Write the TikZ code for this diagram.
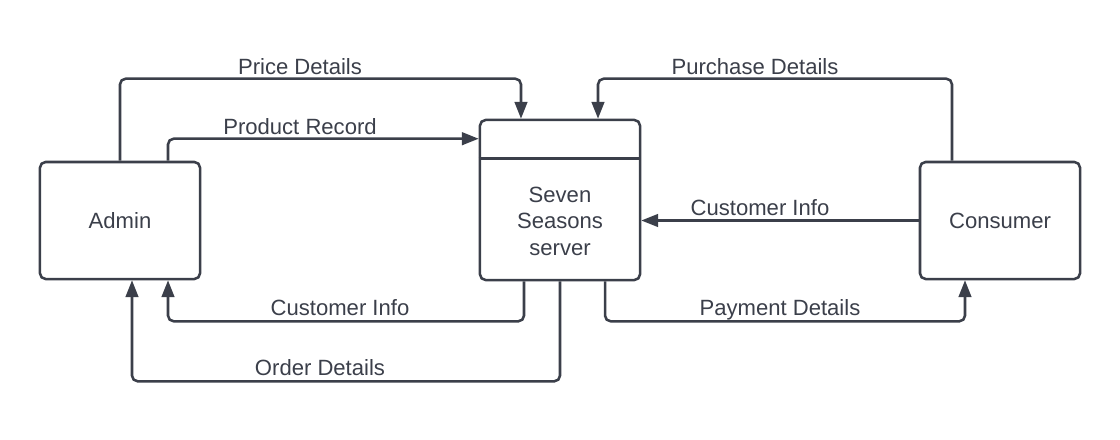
\documentclass[tikz,border=0pt]{standalone}
\usepackage{fontspec}
\setmainfont{Liberation Sans}
\usepackage{tikz}
\usetikzlibrary{arrows.meta}
\usetikzlibrary{positioning}
\definecolor{ink}{RGB}{59,63,74}

\tikzset{
  box/.style={draw=ink,rounded corners=4pt,minimum width=4cm,minimum height=2.925cm,text=ink},
  flow/.style={draw=ink,rounded corners=4pt,-{Triangle[length=12pt,width=9pt]}},
  lbl/.style={anchor=base,text=ink}
}

\begin{document}
\begin{tikzpicture}[x=0.025cm,y=-0.025cm,line width=1.8pt,
    font=\fontsize{15.7}{18.8}\selectfont]
  \useasboundingbox (0,0) rectangle (1120,440);
  \node[box] (admin) at (120,220.5) {Admin};
  \node[box,minimum height=4cm] (server) at (560,200) {};
  \node[align=center,text=ink] (servertext) at (560,221) {Seven\\Seasons\\server};
  \node[box] (consumer) at (1000,220.5) {Consumer};
  \draw[ink]
    ([yshift=-1cm]server.north west) -- ([yshift=-1cm]server.north east);
  % admin side
  \draw[flow] (admin.north) -- ++(0,-82) -| ([xshift=-0.975cm]server.north);
  \draw[flow] ([xshift=1.2cm]admin.north) |- ([yshift=-0.5cm]server.north west);
  \draw[flow] ([xshift=-0.9cm]server.south) -- ++(0,40) -| ([xshift=1.2cm]admin.south);
  \draw[flow] (server.south) -- ++(0,100) -| ([xshift=0.3cm]admin.south);
  % consumer side
  \draw[flow] ([xshift=-1.2cm]consumer.north) -- ++(0,-82) -| ([xshift=0.95cm]server.north);
  \draw[flow] (consumer.west) -- (consumer.west -| server.east);
  \draw[flow] ([xshift=1.125cm]server.south) -- ++(0,40) -| ([xshift=-0.875cm]consumer.south);
  \node[lbl] (price) at (300,75) {Price Details};
  \node[lbl] (product) at (300,135) {Product Record};
  \node[lbl] (infoleft) at (340,315) {Customer Info};
  \node[lbl] (order) at (320,375) {Order Details};
  \node[lbl] (purchase) at (755,75) {Purchase Details};
  \node[lbl] (inforight) at (760,215) {Customer Info};
  \node[lbl] (payment) at (780,315) {Payment Details};
\end{tikzpicture}
\end{document}
